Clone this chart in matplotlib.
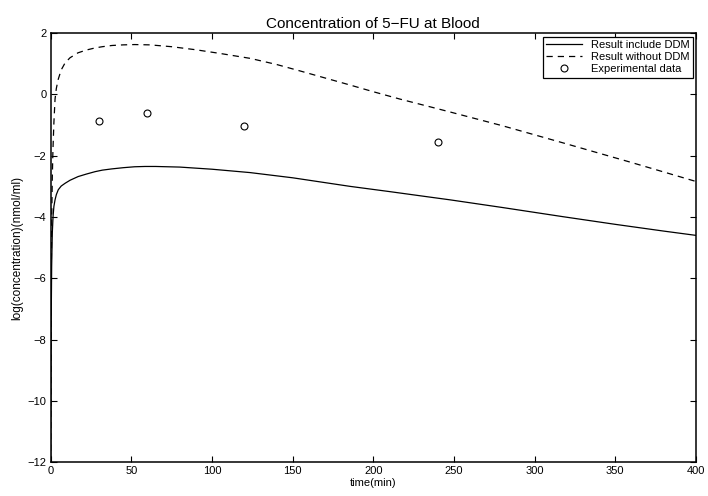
import matplotlib.pyplot as plt

plt.rcParams['font.family'] = ['Liberation Sans', 'DejaVu Sans']

# curve: result including DDM (solid)
t_ddm = [0, 0.3, 0.6, 1.0, 1.5, 2.0, 2.7, 3.5, 4.7, 6.5, 8.9, 12, 17, 22, 27.5, 32, 37.8, 45, 52,
         58.5, 65, 80, 100, 123.6, 150, 185.6, 210, 235, 247.6, 280, 317.6, 350, 380, 400]
c_ddm = [-12, -7.5, -5.6, -4.52, -3.95, -3.65, -3.44, -3.27, -3.11, -2.99, -2.9, -2.8, -2.68, -2.6,
         -2.52, -2.47, -2.43, -2.39, -2.36, -2.35, -2.35, -2.37, -2.44, -2.55, -2.72, -3.0, -3.17,
         -3.35, -3.44, -3.69, -3.99, -4.24, -4.46, -4.6]

# result without DDM (dashed)
t_no = [0, 0.3, 0.6, 1.0, 1.4, 2.0, 2.7, 3.5, 4.7, 6.5, 8.9, 12, 16.9, 22, 27.5, 32, 38, 45, 52,
        61.6, 75, 90, 105, 123.6, 140, 154.5, 170, 185.5, 200, 216.5, 235, 247.5, 280, 317.6, 360, 400]
c_no = [-12, -6.5, -4.2, -2.7, -1.8, -0.9, -0.15, 0.2, 0.5, 0.8, 1.03, 1.2, 1.36, 1.45, 1.52, 1.56,
        1.6, 1.62, 1.63, 1.62, 1.56, 1.46, 1.34, 1.18, 0.98, 0.77, 0.54, 0.31, 0.09, -0.15, -0.4,
        -0.57, -1.02, -1.58, -2.22, -2.84]

# experimental points
t_exp = [30, 60, 120, 240]
c_exp = [-0.88, -0.59, -1.04, -1.54]

fig = plt.figure(figsize=(7.08, 4.96), dpi=100)
ax = fig.add_axes([0.0716, 0.0685, 0.9114, 0.8645])

ax.plot(t_ddm, c_ddm, color='black', linewidth=0.9, label='Result include DDM')
ax.plot(t_no, c_no, color='black', linewidth=0.9, linestyle=(0, (5, 4)), label='Result without DDM')
ax.plot(t_exp, c_exp, linestyle='none', marker='o', markersize=5, markerfacecolor='none',
        markeredgecolor='black', markeredgewidth=0.8, label='Experimental data')

ax.set_xlim(0, 400)
ax.set_ylim(-12, 2)
ax.set_xticks(range(0, 401, 50))
ax.set_yticks(range(-12, 3, 2))
ax.tick_params(direction='in', top=True, right=True, length=4, width=0.8, labelsize=8, pad=3)
for s in ax.spines.values():
    s.set_linewidth(1.1)

ax.set_title('Concentration of 5\u2212FU at Blood', fontsize=11, pad=4)
ax.set_xlabel('time(min)', fontsize=8, labelpad=1)
ax.set_ylabel('log(concentration)(nmol/ml)', fontsize=8.5, labelpad=3)

leg = ax.legend(loc='upper right', fontsize=8, fancybox=False, framealpha=1,
                edgecolor='black', borderaxespad=0.3, handlelength=3.2, borderpad=0.3,
                labelspacing=0.2)
leg.get_frame().set_linewidth(0.9)

fig.savefig('out.png', dpi=100)
